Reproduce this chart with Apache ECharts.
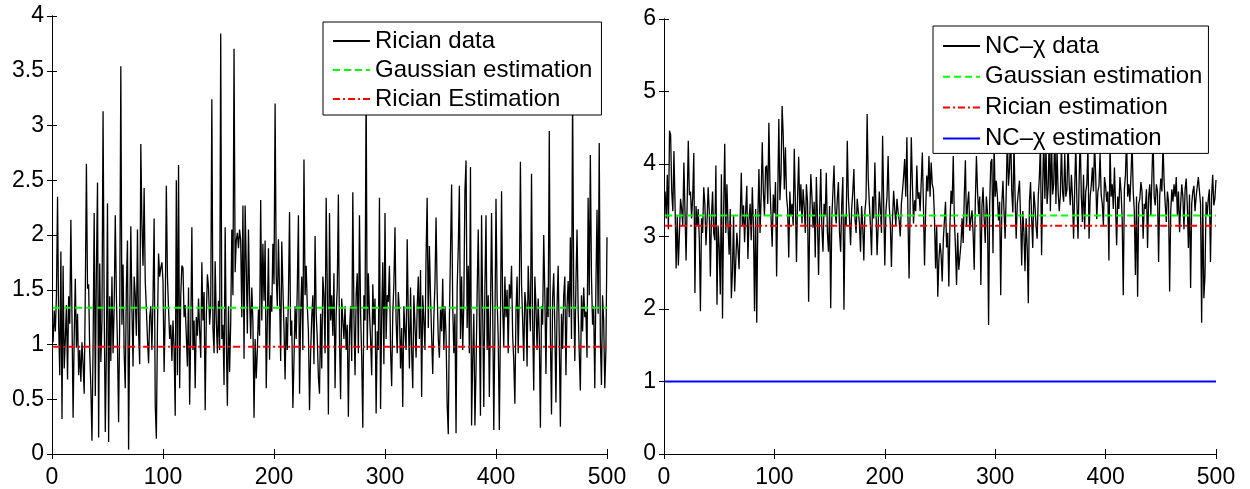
<!DOCTYPE html>
<html>
<head>
<meta charset="utf-8">
<script src="https://cdn.jsdelivr.net/npm/echarts@6/dist/echarts.min.js"></script>
<style>
html,body{margin:0;padding:0;background:#fff;}
#chart{width:1250px;height:489px;}
</style>
</head>
<body>
<div id="chart"></div>
<script>
// ---- Data ----
const ricianData = [
1.02,1.31,1.12,1.45,2.35,1.18,0.72,1.85,0.32,1.72,
0.78,1.05,1.36,0.68,1.44,1.19,2.14,1.25,0.33,1.08,
1.60,0.97,1.28,0.72,0.95,0.66,1.02,0.82,0.55,1.48,
2.65,1.51,1.55,0.92,0.61,0.12,0.98,2.20,0.53,1.68,
2.48,0.15,1.74,0.84,1.21,3.13,1.35,0.20,0.95,2.29,
0.11,1.44,0.85,1.62,0.92,1.33,2.18,1.45,0.98,0.29,
1.22,3.54,1.18,1.73,0.92,0.60,1.52,1.95,0.04,1.20,
2.08,1.35,0.80,1.62,1.45,1.08,2.05,1.12,0.82,2.83,
2.10,1.72,2.43,1.58,1.33,1.05,0.83,1.25,1.35,0.95,
1.42,2.15,0.45,0.14,1.15,1.83,1.62,1.70,1.75,1.58,
0.75,1.28,2.45,1.62,1.33,1.05,1.18,0.85,1.22,0.95,
0.35,2.50,0.72,2.64,0.60,1.45,1.72,1.70,1.25,1.36,
1.08,0.80,1.52,0.45,1.12,2.07,0.95,1.22,0.60,1.25,
1.08,1.42,1.12,0.88,1.75,1.22,1.48,0.40,1.25,1.64,
1.52,1.18,1.35,3.24,1.15,0.92,1.76,1.22,0.92,1.40,
0.95,3.84,1.05,1.18,0.63,2.07,1.05,0.44,1.35,0.75,
1.20,2.05,1.45,3.70,1.66,1.95,2.02,1.88,2.05,1.95,
1.25,2.27,0.87,2.27,1.72,1.10,2.05,1.45,1.05,1.52,
1.20,0.33,1.05,0.69,0.95,1.32,1.08,2.32,1.22,1.92,
1.40,1.95,0.60,1.22,1.88,0.86,1.45,1.30,1.92,1.55,
3.20,1.62,1.35,1.96,1.48,0.85,1.94,1.52,1.15,0.68,
1.25,0.95,1.45,2.21,1.08,1.22,0.42,0.85,1.35,1.05,
1.52,2.18,0.55,1.28,1.62,0.95,2.69,1.45,1.72,1.35,
1.12,0.40,0.92,1.25,1.45,0.82,1.99,1.28,1.05,0.70,
0.55,1.28,0.78,1.62,1.45,0.92,2.34,1.52,0.36,2.20,
1.22,1.45,1.08,1.65,0.60,1.28,1.52,2.37,1.05,0.50,
1.42,1.22,1.05,1.35,0.95,1.18,0.34,1.12,1.35,0.85,
2.39,1.28,0.72,1.45,1.65,0.92,2.18,1.30,0.88,0.24,
1.45,1.22,3.40,0.95,1.65,1.30,1.05,0.72,1.55,1.18,
1.42,0.37,1.12,0.95,2.34,0.41,1.25,1.75,0.82,2.20,
1.05,1.45,1.39,1.72,0.95,0.62,1.28,1.55,2.07,1.22,
0.92,1.48,1.30,0.78,1.15,0.43,1.35,1.12,0.95,1.96,
1.25,0.78,1.52,0.95,0.60,1.45,1.18,0.88,1.35,1.62,
1.05,1.68,0.52,1.45,1.22,0.95,1.82,2.34,1.15,1.90,
1.45,1.08,0.73,1.25,1.55,2.16,1.48,1.05,0.88,1.32,
1.12,1.60,0.95,1.35,1.08,0.45,0.18,1.22,1.85,2.46,
1.35,0.92,1.28,0.19,1.52,1.88,2.45,1.05,1.62,0.95,
1.38,2.40,2.68,1.15,1.72,0.92,2.62,0.26,0.86,1.28,
0.26,0.77,1.45,2.05,1.25,0.35,2.18,1.32,0.43,1.52,
2.18,0.95,1.45,0.52,1.28,2.20,1.35,0.22,1.15,2.33,
1.42,1.05,0.22,1.18,2.40,1.35,0.98,1.62,1.25,1.50,
0.92,1.55,1.42,1.72,1.08,0.85,0.46,1.30,1.62,0.92,
1.45,2.67,1.55,1.22,0.85,1.48,1.35,0.80,1.72,1.38,
1.12,2.56,1.22,0.58,1.62,1.35,0.95,1.42,1.08,0.24,
1.35,1.18,2.00,1.45,0.73,1.52,1.25,2.95,1.08,0.36,
1.42,1.65,1.15,0.47,1.35,1.72,1.05,0.25,1.28,0.96,
1.45,1.62,0.72,1.35,1.58,1.25,1.98,1.05,3.30,1.48,
0.85,1.55,2.05,1.32,0.92,0.58,1.45,1.12,1.52,1.25,
1.30,0.88,2.34,1.45,2.73,1.62,1.18,1.35,0.60,1.52,
2.23,1.28,2.84,1.05,0.63,1.45,1.22,0.60,0.95,1.98
];
const ncChiData = [
3.62,3.25,3.85,3.10,4.46,4.40,3.62,3.35,4.18,3.45,
2.56,3.28,2.60,3.05,3.52,3.38,3.15,4.02,3.35,2.67,
3.48,4.32,3.57,3.62,3.25,3.55,4.15,2.22,3.42,3.15,
3.38,2.95,1.97,3.25,3.05,3.68,3.45,2.88,3.22,3.68,
3.35,2.45,3.28,3.62,3.05,2.95,3.98,2.06,3.15,2.85,
2.20,3.86,1.87,3.35,4.28,3.05,3.72,3.15,2.75,3.38,
2.15,2.52,3.29,2.24,2.65,3.05,2.84,2.55,3.25,3.88,
3.15,3.43,2.92,3.35,3.70,2.69,3.22,3.45,2.95,3.68,
3.15,1.97,3.38,1.81,3.25,3.93,3.05,3.55,4.30,3.62,
3.28,3.95,3.98,3.45,4.57,3.72,3.25,2.86,3.58,3.32,
3.75,2.45,3.52,4.62,3.50,3.85,4.80,4.39,3.65,4.23,
3.55,3.38,2.71,3.62,3.28,3.45,3.15,4.21,3.48,2.65,
3.55,4.10,3.35,3.72,3.18,3.65,3.42,3.05,3.72,3.48,
2.10,3.25,3.86,3.55,3.12,3.48,2.71,3.82,3.25,2.47,
3.35,3.93,3.12,2.79,3.45,3.28,3.88,3.05,2.79,3.42,
2.01,3.25,3.62,3.98,3.35,3.18,3.52,3.75,3.05,2.79,
3.45,3.82,1.99,3.28,3.15,4.32,3.55,3.25,2.88,3.38,
3.62,3.93,3.25,3.05,3.52,3.35,3.18,2.79,3.42,3.15,
2.67,3.35,3.52,4.69,3.80,3.45,3.15,2.74,3.55,3.25,
4.02,3.38,2.74,3.15,3.62,3.38,3.05,4.39,3.45,2.60,
3.35,3.55,4.11,3.42,3.18,2.58,3.25,3.63,3.38,3.15,
3.52,3.35,3.22,3.00,3.45,3.62,3.82,4.07,3.55,4.37,
3.25,2.42,3.45,4.37,3.72,3.18,3.50,3.35,3.98,3.52,
3.61,3.35,3.75,4.16,3.42,2.60,3.35,3.84,3.62,4.11,
3.55,4.02,3.72,3.65,3.25,2.56,3.15,2.17,2.68,2.91,
2.75,2.38,2.95,3.22,3.48,2.85,3.05,2.31,3.15,3.63,
3.45,4.11,3.25,2.85,2.33,3.05,2.54,2.56,2.90,3.25,
2.91,3.55,4.05,3.13,3.45,3.62,3.08,3.25,3.36,3.05,
2.54,3.48,4.11,3.62,3.31,3.55,2.33,3.42,3.68,3.25,
2.91,3.55,3.33,1.78,3.45,4.02,4.07,2.77,4.30,3.55,
3.77,3.55,3.22,3.48,2.19,3.45,3.77,3.35,2.97,3.62,
4.40,3.70,3.95,4.50,3.62,3.33,4.30,3.55,2.97,3.45,
3.62,3.77,3.25,2.60,3.35,3.06,2.52,3.25,2.85,2.08,
3.48,3.75,3.25,2.84,3.62,3.43,3.15,2.97,3.55,3.82,
4.30,2.74,3.65,4.40,3.52,4.25,3.45,3.68,4.45,3.35,
4.35,3.58,3.72,4.50,3.45,4.20,3.62,3.35,3.57,4.28,
3.62,3.48,4.15,3.55,3.65,4.32,3.72,3.43,3.85,3.55,
2.97,3.65,4.30,3.48,2.97,3.75,4.40,3.55,3.20,3.85,
3.10,3.62,3.72,4.25,2.97,3.55,3.70,3.95,3.62,4.30,
3.85,3.24,3.62,3.70,4.15,3.57,3.45,3.15,3.82,3.70,
3.48,3.62,2.67,4.30,3.55,3.72,3.38,3.95,3.45,2.88,
3.55,3.38,3.82,3.62,3.25,2.19,3.65,3.85,4.40,3.55,
3.72,3.48,3.85,4.30,3.62,3.35,2.47,3.55,2.17,3.45,
3.52,3.75,3.62,2.97,3.45,3.38,3.65,2.84,3.55,3.72,
3.29,3.85,4.40,3.55,3.43,3.72,3.62,2.65,3.55,3.80,
3.62,4.30,3.75,3.45,3.20,3.62,3.48,2.24,3.35,3.65,
3.48,3.72,3.55,3.82,3.29,3.62,3.06,3.45,3.72,3.55,
3.10,3.65,3.80,3.42,2.84,3.58,2.29,3.45,3.62,3.70,
3.35,3.55,3.57,3.82,3.63,3.45,1.81,3.55,2.15,2.45,
3.48,3.29,3.52,3.65,2.65,3.55,3.85,3.43,3.52,3.78
];
// constant estimates
const leftGaussianEst = 1.336;
const leftRicianEst = 0.98;
const rightGaussianEst = 3.29;
const rightRicianEst = 3.15;
const rightNcChiEst = 1.0;
// axis ticks
const xTicks = [0, 500, 100];       // min, max, interval
const leftYTicks = [0, 4, 0.5];
const rightYTicks = [0, 6, 1];
// legend labels
const leftLegend = ['Rician data', 'Gaussian estimation', 'Rician Estimation'];
const rightLegend = ['NC\u2013\u03c7 data', 'Gaussian estimation', 'Rician estimation', 'NC\u2013\u03c7 estimation'];

// ---- Build ----
const toPairs = arr => arr.map((v, i) => [i + 1, v]);
const flat = (v, n) => [[1, v], [n, v]];
const N1 = ricianData.length, N2 = ncChiData.length;

const FONT = 'Liberation Sans, Arial, Helvetica, sans-serif';
const axisLine = { show: true, lineStyle: { color: '#000', width: 1 } };
const tick = { show: true, inside: true, length: 5, lineStyle: { color: '#000', width: 1 } };
const label = { color: '#000', fontSize: 23, fontFamily: FONT };

function xAxes(grid) {
  return [
    { gridIndex: grid, type: 'value', position: 'bottom', min: xTicks[0], max: xTicks[1], interval: xTicks[2],
      axisLine, axisTick: tick, splitLine: { show: false }, axisLabel: Object.assign({ margin: 12 }, label) },
    { gridIndex: grid, type: 'value', position: 'top', min: xTicks[0], max: xTicks[1], interval: xTicks[2],
      axisLine, axisTick: tick, splitLine: { show: false }, axisLabel: { show: false } }
  ];
}
function yAxes(grid, t) {
  return [
    { gridIndex: grid, type: 'value', position: 'left', min: t[0], max: t[1], interval: t[2],
      axisLine, axisTick: tick, splitLine: { show: false }, axisLabel: Object.assign({ margin: 8 }, label) },
    { gridIndex: grid, type: 'value', position: 'right', min: t[0], max: t[1], interval: t[2],
      axisLine, axisTick: tick, splitLine: { show: false }, axisLabel: { show: false } }
  ];
}

const dataLine = { color: '#000', width: 1.3 };
const greenDash = { color: '#00ff00', width: 2, type: [7, 4] };
const redDashDot = { color: '#ff0000', width: 2, type: [7, 3, 2, 3] };
const blueSolid = { color: '#0000ff', width: 2 };

function ser(name, xi, yi, data, ls) {
  return { name, type: 'line', xAxisIndex: xi, yAxisIndex: yi, data, symbol: 'none', showSymbol: false,
    lineStyle: ls, itemStyle: { color: ls.color }, animation: false, silent: true };
}

const legendCommon = {
  orient: 'vertical', backgroundColor: '#fff', borderColor: '#000', borderWidth: 1, borderRadius: 0,
  itemWidth: 37, itemHeight: 12, selectedMode: false,
  itemStyle: { opacity: 0 },
  textStyle: { color: '#000', fontSize: 24, fontFamily: FONT, lineHeight: 24 }
};

const option = {
  backgroundColor: '#fff',
  animation: false,
  grid: [
    { left: 52, top: 16, width: 555, height: 440, show: false },
    { left: 664, top: 19, width: 552, height: 437.5, show: false }
  ],
  xAxis: [...xAxes(0), ...xAxes(1)],
  yAxis: [...yAxes(0, leftYTicks), ...yAxes(1, rightYTicks)],
  legend: [
    Object.assign({}, legendCommon, { left: 323, top: 22, itemGap: 5, padding: [7, 9, 4, 9],
      data: leftLegend }),
    Object.assign({}, legendCommon, { left: 933, top: 26, itemGap: 6.8, padding: [8, 6, 3, 9],
      data: rightLegend })
  ],
  series: [
    ser(leftLegend[0], 0, 0, toPairs(ricianData), dataLine),
    ser(leftLegend[1], 0, 0, flat(leftGaussianEst, N1), greenDash),
    ser(leftLegend[2], 0, 0, flat(leftRicianEst, N1), redDashDot),
    ser(rightLegend[0], 2, 2, toPairs(ncChiData), dataLine),
    ser(rightLegend[1], 2, 2, flat(rightGaussianEst, N2), greenDash),
    ser(rightLegend[2], 2, 2, flat(rightRicianEst, N2), redDashDot),
    ser(rightLegend[3], 2, 2, flat(rightNcChiEst, N2), blueSolid)
  ]
};

const chart = echarts.init(document.getElementById('chart'), null, { renderer: 'canvas' });
chart.setOption(option);
</script>
</body>
</html>
